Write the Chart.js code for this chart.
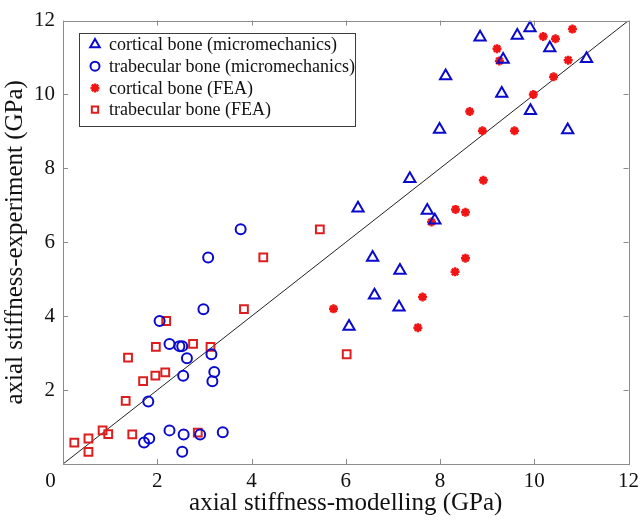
<!DOCTYPE html>
<html>
<head>
<meta charset="utf-8">
<script src="https://cdn.jsdelivr.net/npm/chart.js@4.4.1/dist/chart.umd.min.js"></script>
<style>
  html, body { margin: 0; padding: 0; background: #fff; }
  #wrap { width: 644px; height: 521px; }
</style>
</head>
<body>
<div id="wrap"><canvas id="stiffChart"></canvas></div>
<script>
// values (GPa): x = modelling, y = experiment
const corticalMicroX = [6.07, 6.61, 7.13, 7.15, 6.57, 6.26, 7.73, 7.89, 7.36, 7.99, 10.71, 9.92, 9.31, 8.12, 9.34, 11.11, 10.33, 8.85, 9.64, 9.91];
const corticalMicroY = [3.72, 4.57, 4.24, 5.24, 5.59, 6.92, 6.86, 6.60, 7.72, 9.05, 9.04, 9.56, 10.03, 10.50, 10.95, 10.97, 11.26, 11.55, 11.60, 11.80];

const trabMicroX = [2.98, 2.05, 2.26, 2.47, 2.53, 2.63, 3.15, 3.21, 3.17, 2.55, 1.81, 2.26, 2.56, 2.91, 3.39, 1.83, 1.72, 2.53, 3.08, 3.77];
const trabMicroY = [4.19, 3.87, 3.25, 3.19, 3.19, 2.86, 2.97, 2.49, 2.24, 2.39, 1.69, 0.91, 0.80, 0.80, 0.86, 0.69, 0.58, 0.33, 5.59, 6.35];

const corticalFeaX = [5.74, 7.53, 7.63, 8.32, 8.54, 7.82, 8.33, 8.54, 8.92, 8.90, 9.58, 8.63, 9.98, 10.41, 9.26, 10.72, 9.21, 10.45, 10.19, 10.81];
const corticalFeaY = [4.20, 3.69, 4.52, 5.20, 5.57, 6.55, 6.89, 6.81, 7.68, 9.02, 9.02, 9.54, 10.00, 10.48, 10.91, 10.93, 11.24, 11.51, 11.57, 11.77];

const trabFeaX = [3.84, 2.19, 1.97, 2.76, 3.13, 1.38, 2.17, 1.96, 1.70, 1.33, 0.84, 0.96, 1.47, 2.86, 0.54, 0.24, 0.54, 5.45, 4.25, 6.02];
const trabFeaY = [4.19, 3.87, 3.17, 3.25, 3.17, 2.88, 2.48, 2.39, 2.24, 1.71, 0.91, 0.81, 0.80, 0.85, 0.69, 0.58, 0.33, 6.35, 5.59, 2.97];

const axisTicks = [0, 2, 4, 6, 8, 10, 12];
const seriesNames = ['cortical bone (micromechanics)', 'trabecular bone (micromechanics)', 'cortical bone (FEA)', 'trabecular bone (FEA)'];

const serif = '"Liberation Serif", "DejaVu Serif", serif';
const blue = 'rgb(10, 10, 205)';
const red = 'rgb(220, 30, 30)';
const starRed = 'rgb(240, 20, 20)';

function pairs(xs, ys) {
    return xs.map((x, i) => ({ x: x, y: ys[i] }));
}

// tick marks pointing inward on all four sides, plus the grey box
const boxPlugin = {
    id: 'boxTicks',
    afterDatasetsDraw(chart) {
        const { ctx, chartArea: a, scales } = chart;
        ctx.save();
        ctx.strokeStyle = 'rgb(140, 140, 140)';
        ctx.lineWidth = 1;
        ctx.beginPath();
        axisTicks.forEach(v => {
            const px = Math.round(scales.x.getPixelForValue(v)) + 0.5;
            const py = Math.round(scales.y.getPixelForValue(v)) + 0.5;
            ctx.moveTo(px, a.bottom); ctx.lineTo(px, a.bottom - 5);
            ctx.moveTo(px, a.top); ctx.lineTo(px, a.top + 5);
            ctx.moveTo(a.left, py); ctx.lineTo(a.left + 5, py);
            ctx.moveTo(a.right, py); ctx.lineTo(a.right - 5, py);
        });
        ctx.stroke();
        ctx.strokeRect(Math.round(a.left) + 0.5, Math.round(a.top) + 0.5,
            Math.round(a.right - a.left), Math.round(a.bottom - a.top));
        ctx.restore();
    }
};

// legend box in the upper left of the plot
const legendPlugin = {
    id: 'innerLegend',
    afterDraw(chart) {
        const ctx = chart.ctx;
        const bx = 79.5, by = 33.5, bw = 276, bh = 93;
        ctx.save();
        ctx.fillStyle = '#fff';
        ctx.fillRect(bx, by, bw, bh);
        ctx.strokeStyle = 'rgb(60, 60, 60)';
        ctx.lineWidth = 1;
        ctx.strokeRect(bx, by, bw, bh);
        ctx.font = '18px ' + serif;
        ctx.textBaseline = 'middle';
        ctx.textAlign = 'left';
        for (let i = 0; i < 4; i++) {
            const ds = chart.data.datasets[i];
            const y = 44.5 + i * 21.7;
            ctx.strokeStyle = ds.borderColor;
            ctx.fillStyle = ds.backgroundColor;
            ctx.lineWidth = ds.borderWidth;
            Chart.helpers.drawPoint(ctx, {
                pointStyle: ds.pointStyle,
                radius: ds.pointStyle === 'triangle' ? 5.5 : 4.5,
                borderWidth: ds.borderWidth,
                rotation: 0
            }, 95, y);
            ctx.fillStyle = '#111';
            ctx.fillText(seriesNames[i], 109, y + 1);
        }
        ctx.restore();
    }
};

const ctx = document.getElementById('stiffChart');

new Chart(ctx, {
    data: {
        datasets: [{
            type: 'scatter',
            label: seriesNames[0],
            data: pairs(corticalMicroX, corticalMicroY),
            pointStyle: 'triangle',
            pointRadius: 6.5,
            borderColor: blue,
            backgroundColor: 'rgba(0,0,0,0)',
            borderWidth: 2
        }, {
            type: 'scatter',
            label: seriesNames[1],
            data: pairs(trabMicroX, trabMicroY),
            pointStyle: 'circle',
            pointRadius: 5,
            borderColor: blue,
            backgroundColor: 'rgba(0,0,0,0)',
            borderWidth: 2
        }, {
            type: 'scatter',
            label: seriesNames[2],
            data: pairs(corticalFeaX, corticalFeaY),
            pointStyle: 'star',
            pointRadius: 4.5,
            borderColor: starRed,
            backgroundColor: starRed,
            borderWidth: 2.5
        }, {
            type: 'scatter',
            label: seriesNames[3],
            data: pairs(trabFeaX, trabFeaY),
            pointStyle: 'rect',
            pointRadius: 5.5,
            borderColor: red,
            backgroundColor: 'rgba(0,0,0,0)',
            borderWidth: 2
        }, {
            type: 'line',
            label: 'y = x',
            data: [{ x: 0, y: 0 }, { x: 12, y: 12 }],
            borderColor: '#222',
            borderWidth: 1,
            pointRadius: 0,
            fill: false,
            order: 10
        }]
    },
    options: {
        responsive: true,
        maintainAspectRatio: false,
        animation: false,
        layout: {
            padding: { left: 0, right: 13, top: 13, bottom: 0 }
        },
        scales: {
            x: {
                type: 'linear',
                min: 0,
                max: 12,
                grid: { display: false, drawTicks: false },
                border: { display: false },
                afterBuildTicks: scale => { scale.ticks = axisTicks.map(v => ({ value: v })); },
                afterFit: scale => { scale.height = 57; },
                ticks: {
                    color: '#111',
                    padding: 5,
                    maxRotation: 0,
                    font: { family: serif, size: 21 },
                    callback: v => v === 0 ? '0\u2002\u2002\u2009' : String(v)
                },
                title: {
                    display: true,
                    text: 'axial stiffness-modelling (GPa)',
                    color: '#111',
                    font: { family: serif, size: 25 },
                    padding: { top: 0, bottom: 3 }
                }
            },
            y: {
                type: 'linear',
                min: 0,
                max: 12,
                grid: { display: false, drawTicks: false },
                border: { display: false },
                afterBuildTicks: scale => { scale.ticks = axisTicks.map(v => ({ value: v })); },
                afterFit: scale => { scale.width = 63; },
                ticks: {
                    color: '#111',
                    padding: 8,
                    font: { family: serif, size: 21 },
                    callback: v => v === 0 ? '' : String(v)
                },
                title: {
                    display: true,
                    text: 'axial stiffness-experiment (GPa)',
                    color: '#111',
                    font: { family: serif, size: 25 },
                    padding: { top: 0, bottom: 0 }
                }
            }
        },
        plugins: {
            legend: { display: false },
            tooltip: { enabled: false }
        }
    },
    plugins: [boxPlugin, legendPlugin]
});
</script>
</body>
</html>
